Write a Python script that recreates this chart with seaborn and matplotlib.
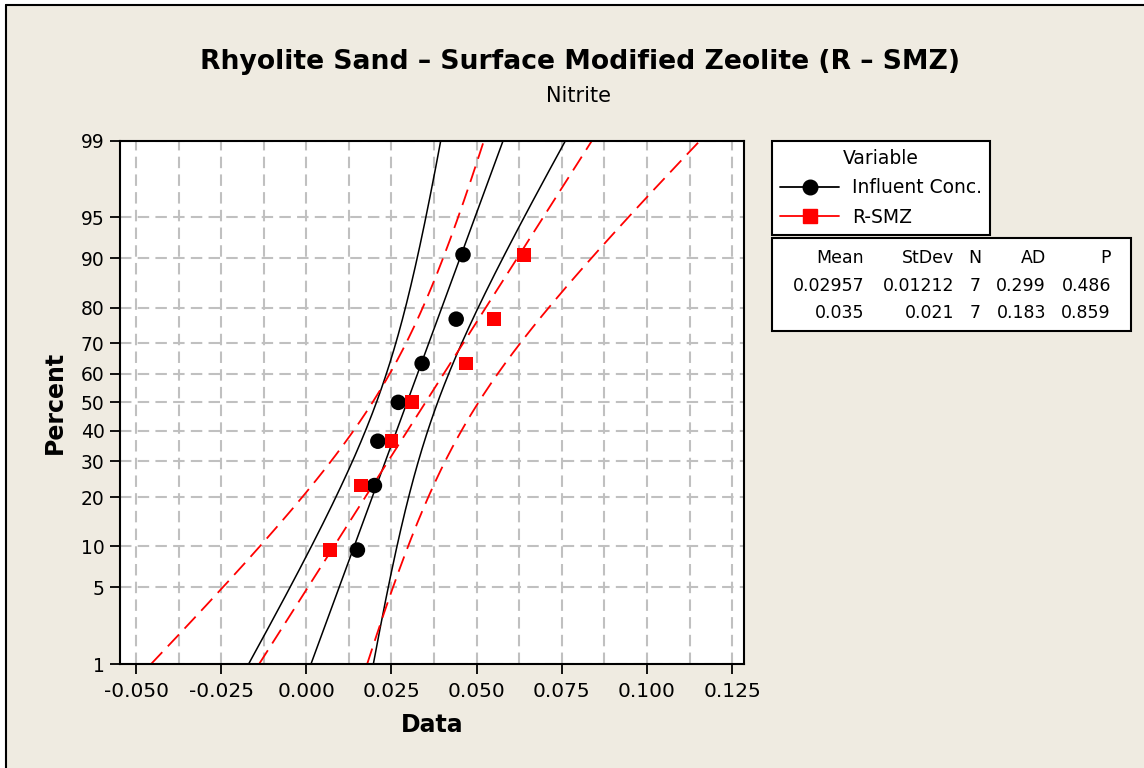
import numpy as np
import pandas as pd
import seaborn as sns
import matplotlib.pyplot as plt
from matplotlib.lines import Line2D
from matplotlib.patches import Rectangle
from statistics import NormalDist

# data
influent = [0.015, 0.020, 0.021, 0.027, 0.034, 0.044, 0.046]
rsmz = [0.007, 0.016, 0.025, 0.031, 0.047, 0.055, 0.064]
series_names = ["Influent Conc.", "R-SMZ"]
series_colors = ["black", "#FF0000"]
pct_ticks = [1, 5, 10, 20, 30, 40, 50, 60, 70, 80, 90, 95, 99]
x_ticks = [-0.050, -0.025, 0.000, 0.025, 0.050, 0.075, 0.100, 0.125]
table_header = ["Mean", "StDev", "N", "AD", "P"]
table_rows = [["0.02957", "0.01212", "7", "0.299", "0.486"],
              ["0.035", "0.021", "7", "0.183", "0.859"]]

sns.set_style("ticks")
plt.rcParams["font.family"] = ["DejaVu Sans"]
plt.rcParams["axes.unicode_minus"] = False
plt.rcParams["text.color"] = "black"
plt.rcParams["axes.labelcolor"] = "black"

BEIGE = "#EFEBE1"
W, H = 1144, 768
nd = NormalDist()

fig = plt.figure(figsize=(W / 100, H / 100), dpi=100, facecolor="white")
# beige panel with the dark border on top / left (screenshot look)
fig.patches.append(Rectangle((6 / W, 0), 1 - 6 / W, 1 - 5 / H, transform=fig.transFigure,
                             facecolor=BEIGE, edgecolor="none", zorder=-10))
fig.add_artist(Line2D([6 / W, 1], [1 - 5 / H, 1 - 5 / H], transform=fig.transFigure, color="black", lw=1.5))
fig.add_artist(Line2D([6 / W, 6 / W], [0, 1 - 5 / H], transform=fig.transFigure, color="black", lw=1.5))

ax = fig.add_axes([120 / W, 1 - 664 / H, 624 / W, 523.3 / H])
ax.set_facecolor("white")

zlo, zhi = nd.inv_cdf(0.01), nd.inv_cdf(0.99)
zz = np.linspace(zlo, zhi, 300)

rows = []
for name, vals, col in zip(series_names, [influent, rsmz], series_colors):
    v = np.sort(np.array(vals))
    n = len(v)
    m, s = v.mean(), v.std(ddof=1)
    # median-rank plotting positions (Minitab style)
    pp = (np.arange(1, n + 1) - 0.3) / (n + 0.4)
    zp = [nd.inv_cdf(p) for p in pp]
    rows += [{"Data": a, "z": b, "Variable": name} for a, b in zip(v, zp)]
    fit = m + zz * s
    half = 1.96 * s * np.sqrt(1 / n + zz ** 2 / (2 * (n - 1)))
    ls = "-" if col == "black" else (0, (9, 4.5))
    lw = 1.1 if col == "black" else 1.3
    for line in (fit, fit - half, fit + half):
        ax.plot(line, zz, color=col, lw=lw, linestyle=ls, zorder=2)

df = pd.DataFrame(rows)
sns.scatterplot(data=df[df["Variable"] == series_names[0]], x="Data", y="z", color="black",
                marker="o", s=125, edgecolor="none", ax=ax, zorder=4, legend=False)
sns.scatterplot(data=df[df["Variable"] == series_names[1]], x="Data", y="z", color="#FF0000",
                marker="s", s=100, edgecolor="none", ax=ax, zorder=4, legend=False)

# axes / ticks
ax.set_ylim(zlo, zhi)
ax.set_xlim(-0.0547, 0.1285)
ax.set_yticks([nd.inv_cdf(p / 100) for p in pct_ticks])
ax.set_yticklabels([str(p) for p in pct_ticks])
ax.set_xticks(x_ticks)
ax.set_xticklabels([f"{t:.3f}" for t in x_ticks])
ax.set_xticks([(a + b) / 2 for a, b in zip(x_ticks[:-1], x_ticks[1:])], minor=True)
ax.tick_params(axis="both", which="major", direction="out", length=7, width=1.3,
               color="black", labelsize=14.5, labelcolor="black")
ax.tick_params(axis="x", which="major", pad=6)
ax.tick_params(axis="y", which="major", pad=4, labelsize=13.5)
ax.tick_params(axis="x", which="minor", length=0)
ax.grid(True, which="both", axis="x", color="#C0C0C0", lw=1.5, linestyle=(0, (5.5, 3)))
ax.grid(True, which="major", axis="y", color="#C0C0C0", lw=1.5, linestyle=(0, (5.5, 3)))
ax.set_axisbelow(True)
for sp in ax.spines.values():
    sp.set_color("black")
    sp.set_linewidth(1.5)

ax.set_xlabel("Data", fontsize=17, fontweight="bold")
ax.set_ylabel("Percent", fontsize=17, fontweight="bold")
ax.xaxis.label.set_va("center")
ax.yaxis.label.set_va("center")
ax.xaxis.set_label_coords(0.5, (664 - 725) / 523.3)
ax.yaxis.set_label_coords((54.7 - 120) / 624, 0.5)

# titles
fig.text(580 / W, 1 - 62 / H, "Rhyolite Sand \u2013 Surface Modified Zeolite (R \u2013 SMZ)",
         ha="center", va="center", fontsize=19.2, fontweight="bold")
fig.text(579 / W, 1 - 96 / H, "Nitrite", ha="center", va="center", fontsize=15)

# legend
handles = [Line2D([], [], color="black", marker="o", markersize=10.5, lw=1.3),
           Line2D([], [], color="#FF0000", marker="s", markersize=9.5, lw=1.3)]
leg = fig.legend(handles, series_names, title="Variable", loc="upper left",
                 bbox_to_anchor=(772 / W, 1 - 140.7 / H), borderaxespad=0,
                 frameon=True, fancybox=False, edgecolor="black", facecolor="white",
                 framealpha=1, fontsize=13.5, title_fontsize=13.5, handlelength=3.1,
                 labelspacing=0.55, borderpad=0.45, handletextpad=0.7)
leg.get_frame().set_linewidth(1.5)

# statistics table
fig.patches.append(Rectangle((771.7 / W, 1 - 331 / H), 359 / W, 93 / H, transform=fig.transFigure,
                             facecolor="white", edgecolor="black", lw=1.5, zorder=1))
col_right = [864, 954, 981, 1046, 1111]
row_y = [258, 286, 313]
for r, items in enumerate([table_header] + table_rows):
    for c, txt in enumerate(items):
        fig.text(col_right[c] / W, 1 - row_y[r] / H, txt, ha="right", va="center",
                 fontsize=12.5, zorder=3)

plt.savefig("out.png", dpi=100, facecolor=fig.get_facecolor())
